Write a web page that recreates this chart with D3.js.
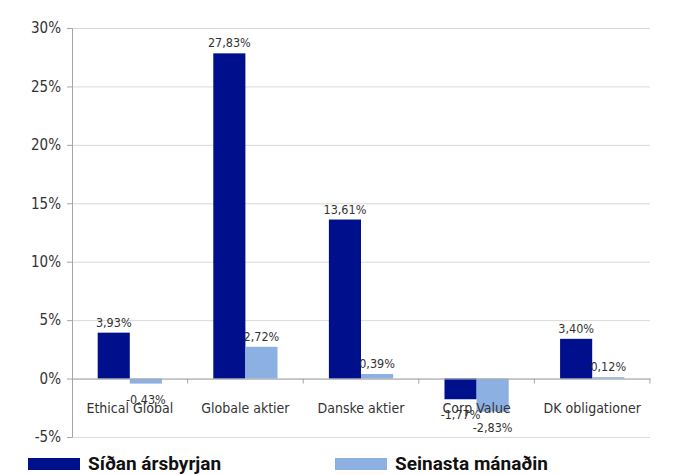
<!DOCTYPE html>
<html>
<head>
<meta charset="utf-8">
<script src="https://cdn.jsdelivr.net/npm/d3@7"></script>
<style>
  body { margin: 0; background: #fff; }
  .grid line { stroke: #d9d9d9; }
  .grid path { display: none; }
  .axis text { font-family: "Liberation Sans Narrow", "DejaVu Sans Condensed", sans-serif; fill: #333; }
</style>
</head>
<body>
<div id="chart"></div>
<script>
// Values
var categories = ['Ethical Global', 'Globale aktier', 'Danske aktier', 'Corp Value', 'DK obligationer'];
var series     = ['Síðan ársbyrjan', 'Seinasta mánaðin'];
var sinceStart = [3.93, 27.83, 13.61, -1.77, 3.40];
var lastMonth  = [-0.43, 2.72, 0.39, -2.83, 0.12];
var yTicks     = [-5, 0, 5, 10, 15, 20, 25, 30];
var colors     = ['#000f8c', '#8db0e2'];

var width = 687, height = 475;
var margin = { top: 28, right: 37, bottom: 38, left: 72 };

var svg = d3.select('#chart')
            .append('svg')
            .attr('width', width)
            .attr('height', height);

var x = d3.scaleBand()
          .domain(categories)
          .range([margin.left, width - margin.right]);

var inner = d3.scaleBand()
              .domain(series)
              .range([0, x.bandwidth()])
              .paddingInner(0)
              .paddingOuter(0.8);

var y = d3.scaleLinear()
          .domain([-5, 30])
          .range([height - margin.bottom, margin.top]);

// horizontal grid
svg.append('g')
   .attr('class', 'grid')
   .attr('transform', 'translate(' + margin.left + ',0)')
   .call(d3.axisLeft(y).tickValues(yTicks).tickSize(-(width - margin.right - margin.left)).tickFormat(''));

// y axis
var yAxis = svg.append('g')
   .attr('class', 'axis')
   .attr('transform', 'translate(' + margin.left + ',0)')
   .call(d3.axisLeft(y).tickValues(yTicks).tickSize(5).tickPadding(6)
           .tickFormat(function (d) { return d + '%'; }));
yAxis.select('.domain').attr('stroke', '#a6a6a6');
yAxis.selectAll('.tick line').attr('stroke', '#a6a6a6');
yAxis.selectAll('text').style('font-size', '15px');

// bars
var rows = categories.map(function (c, i) {
    return { cat: c, vals: [sinceStart[i], lastMonth[i]] };
});

var groups = svg.selectAll('.grp')
   .data(rows)
   .enter().append('g')
   .attr('transform', function (d) { return 'translate(' + x(d.cat) + ',0)'; });

groups.selectAll('rect')
   .data(function (d) { return d.vals.map(function (v, j) { return { s: series[j], v: v, j: j }; }); })
   .enter().append('rect')
   .attr('x', function (d) { return inner(d.s); })
   .attr('width', inner.bandwidth())
   .attr('y', function (d) { return y(Math.max(0, d.v)); })
   .attr('height', function (d) { return Math.abs(y(d.v) - y(0)); })
   .attr('fill', function (d) { return colors[d.j]; });

// x axis at zero
var xAxis = svg.append('g')
   .attr('class', 'axis')
   .attr('transform', 'translate(0,' + y(0) + ')')
   .call(d3.axisBottom(x).tickSize(0).tickFormat(''));
xAxis.select('.domain').attr('stroke', '#a6a6a6');

// category ticks between bands
svg.selectAll('.ctick')
   .data(categories)
   .enter().append('line')
   .attr('x1', function (d) { return x(d) + x.bandwidth(); })
   .attr('x2', function (d) { return x(d) + x.bandwidth(); })
   .attr('y1', y(0))
   .attr('y2', y(0) + 5)
   .attr('stroke', '#a6a6a6');

// category labels
svg.selectAll('.clabel')
   .data(categories)
   .enter().append('text')
   .attr('x', function (d) { return x(d) + x.bandwidth() / 2; })
   .attr('y', y(0) + 34)
   .attr('text-anchor', 'middle')
   .style('font-family', '"Liberation Sans Narrow", "DejaVu Sans Condensed", sans-serif')
   .style('font-size', '14px')
   .style('fill', '#333')
   .text(function (d) { return d; });

// value labels
groups.selectAll('.vlabel')
   .data(function (d) { return d.vals.map(function (v, j) { return { s: series[j], v: v }; }); })
   .enter().append('text')
   .attr('x', function (d) { return inner(d.s) + inner.bandwidth() / 2; })
   .attr('y', function (d) { return d.v >= 0 ? y(d.v) - 6 : y(d.v) + 20; })
   .attr('text-anchor', 'middle')
   .style('font-family', '"Liberation Sans Narrow", "DejaVu Sans Condensed", sans-serif')
   .style('font-size', '12.5px')
   .style('fill', '#333')
   .text(function (d) { return d.v.toFixed(2).replace('.', ',') + '%'; });

// legend
var legendX = [28, 335];
var legend = svg.selectAll('.leg')
   .data(series)
   .enter().append('g')
   .attr('transform', function (d, i) { return 'translate(' + legendX[i] + ',458)'; });

legend.append('rect')
   .attr('width', 52)
   .attr('height', 12)
   .attr('fill', function (d, i) { return colors[i]; });

legend.append('text')
   .attr('x', 60)
   .attr('y', 12)
   .style('font-family', 'Roboto, "Liberation Sans", sans-serif')
   .style('font-weight', 'bold')
   .style('font-size', '19px')
   .style('fill', '#111')
   .text(function (d) { return d; });
</script>
</body>
</html>
